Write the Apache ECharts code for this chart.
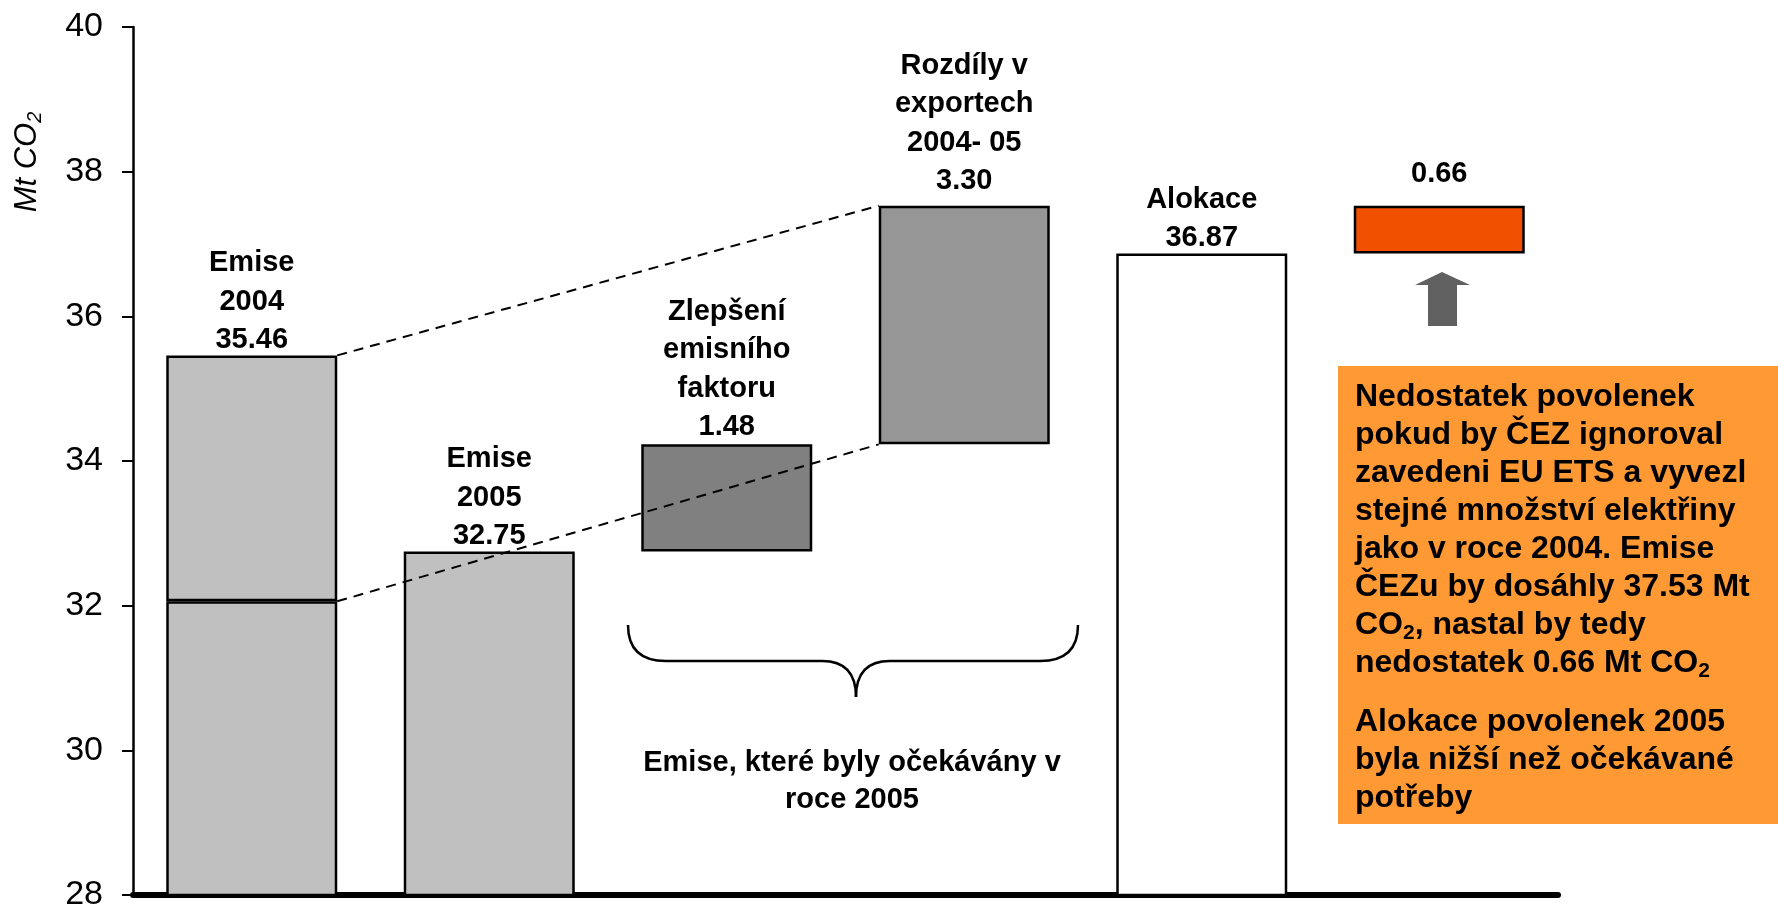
<!DOCTYPE html>
<html><head><meta charset="utf-8">
<script src="https://cdn.jsdelivr.net/npm/echarts@6/dist/echarts.min.js"></script>
<style>html,body{margin:0;padding:0;background:#fff}#c{width:1778px;height:912px}</style>
</head><body><div id="c"></div>
<script>
// ---- data ----
const categories = ['Emise 2004', 'Emise 2005', 'Zlepšení emisního faktoru', 'Rozdíly v exportech 2004- 05', 'Alokace', 'Nedostatek'];
const baseValues = [32.06, 32.75, 32.75, 34.23, 36.87, 36.87];   // lower segment / invisible base
const deltaValues = [3.40, null, 1.48, 3.30, null, 0.66];        // upper segment
const baseVisible = [true, true, false, false, true, false];
const barLabels = ['Emise\n2004\n35.46', 'Emise\n2005\n32.75', 'Zlepšení\nemisního\nfaktoru\n1.48', 'Rozdíly v\nexportech\n2004- 05\n3.30', 'Alokace\n36.87', '0.66'];
const yMin = 28, yMax = 40, yStep = 2;
const yAxisName = 'Mt CO{sub|2}';
const braceText = 'Emise, které byly očekávány v\nroce 2005';
const boxText1 = 'Nedostatek povolenek\npokud by ČEZ ignoroval\nzavedeni EU ETS a vyvezl\nstejné množství elektřiny\njako v roce 2004. Emise\nČEZu by dosáhly 37.53 Mt\nCO{sub|2}, nastal by tedy\nnedostatek 0.66 Mt CO{sub|2}';
const boxText2 = 'Alokace povolenek 2005\nbyla nižší než očekávané\npotřeby';

// ---- styles ----
const FONT = '"Liberation Sans", Arial, sans-serif';
const BAR_W = 171;
const segColors = ['#C0C0C0', '#C0C0C0', '#808080', '#969696', '#FFFFFF', '#F05000'];
const labelDist = [-4, -4, -2, 5, -4, 12];

const connectors = [
  [0, baseValues[0] + deltaValues[0], 3, baseValues[3] + deltaValues[3]],
  [0, baseValues[0], 3, baseValues[3]]
];

function labelCfg(i) {
  return {
    show: true, position: 'top', distance: labelDist[i], formatter: barLabels[i],
    color: '#000', fontFamily: FONT, fontWeight: 'bold', fontSize: 29, lineHeight: 38.5, align: 'center'
  };
}

const baseData = baseValues.map((v, i) => {
  const topHere = deltaValues[i] == null;
  return {
    value: v,
    itemStyle: baseVisible[i]
      ? { color: segColors[i], borderColor: '#000', borderWidth: 2.5 }
      : { color: 'rgba(0,0,0,0)', borderWidth: 0 },
    label: topHere && baseVisible[i] ? labelCfg(i) : { show: false }
  };
});
const deltaData = deltaValues.map((v, i) => v == null ? '-' : {
  value: v,
  itemStyle: { color: segColors[i], borderColor: '#000', borderWidth: 2.5 },
  label: labelCfg(i)
});

const chart = echarts.init(document.getElementById('c'), null, { renderer: 'canvas' });
const subStyle = (fs) => ({ fontSize: fs, fontWeight: 'bold', fontFamily: FONT, lineHeight: 18, verticalAlign: 'bottom', fill: '#000' });
const braceStyle = { stroke: '#000', lineWidth: 2.5, fill: null };

chart.setOption({
  animation: false,
  backgroundColor: '#fff',
  grid: { left: 133, top: 27, width: 1425, height: 870 },
  xAxis: {
    type: 'category', data: categories,
    axisLine: { show: true, lineStyle: { color: '#000', width: 6, cap: 'round' } },
    axisTick: { show: false }, axisLabel: { show: false }, splitLine: { show: false }
  },
  yAxis: {
    type: 'value', min: yMin, max: yMax, interval: yStep,
    axisLine: { show: true, lineStyle: { color: '#000', width: 2.5 } },
    axisTick: { show: true, length: 11, inside: false, lineStyle: { color: '#000', width: 2 } },
    axisLabel: { show: true, margin: 30, color: '#000', fontSize: 34, fontFamily: FONT },
    splitLine: { show: false }
  },
  series: [
    { type: 'bar', stack: 'w', barWidth: BAR_W, data: baseData, z: 2, emphasis: { disabled: true } },
    { type: 'bar', stack: 'w', barWidth: BAR_W, data: deltaData, z: 2, emphasis: { disabled: true } },
    {
      type: 'custom', z: 5, silent: true, data: connectors,
      encode: { x: 0, y: 1 },
      renderItem: function (params, api) {
        const p0 = api.coord([api.value(0), api.value(1)]);
        const p1 = api.coord([api.value(2), api.value(3)]);
        return {
          type: 'line', z2: 10,
          shape: { x1: p0[0] + BAR_W / 2, y1: p0[1], x2: p1[0] - BAR_W / 2, y2: p1[1] },
          style: { stroke: '#000', lineWidth: 2, lineDash: [10, 7], fill: null }
        };
      }
    }
  ],
  graphic: [
    {
      type: 'text', x: 27, y: 162, rotation: Math.PI / 2,
      style: {
        text: yAxisName, fill: '#000', fontSize: 31, fontStyle: 'italic', fontFamily: FONT,
        align: 'center', verticalAlign: 'middle', lineHeight: 36,
        rich: { sub: { fontSize: 20, fontStyle: 'italic', fontFamily: FONT, lineHeight: 20, verticalAlign: 'bottom', fill: '#000' } }
      }
    },
    { type: 'bezierCurve', shape: { x1: 628, y1: 625, cpx1: 628, cpy1: 661, x2: 666, y2: 661 }, style: braceStyle },
    { type: 'line', shape: { x1: 666, y1: 661, x2: 822, y2: 661 }, style: braceStyle },
    { type: 'bezierCurve', shape: { x1: 822, y1: 661, cpx1: 856, cpy1: 661, x2: 856, y2: 697 }, style: braceStyle },
    { type: 'bezierCurve', shape: { x1: 890, y1: 661, cpx1: 856, cpy1: 661, x2: 856, y2: 697 }, style: braceStyle },
    { type: 'line', shape: { x1: 890, y1: 661, x2: 1040, y2: 661 }, style: braceStyle },
    { type: 'bezierCurve', shape: { x1: 1040, y1: 661, cpx1: 1078, cpy1: 661, x2: 1078, y2: 625 }, style: braceStyle },
    {
      type: 'text', x: 852, y: 744,
      style: { text: braceText, fill: '#000', fontSize: 29, fontWeight: 'bold', fontFamily: FONT, lineHeight: 37, align: 'center', verticalAlign: 'top' }
    },
    {
      type: 'polygon',
      shape: { points: [[1442, 272], [1470, 285], [1457, 285], [1457, 326], [1428, 326], [1428, 285], [1415, 285]] },
      style: { fill: '#606060' }
    },
    {
      type: 'rect', shape: { x: 1338, y: 366, width: 440, height: 458 }, style: { fill: '#FF9933' }
    },
    {
      type: 'text', x: 1355, y: 378,
      style: {
        text: boxText1, fill: '#000', fontSize: 32, fontWeight: 'bold', fontFamily: FONT, lineHeight: 38,
        align: 'left', verticalAlign: 'top', rich: { sub: subStyle(21) }
      }
    },
    {
      type: 'text', x: 1355, y: 703,
      style: { text: boxText2, fill: '#000', fontSize: 32, fontWeight: 'bold', fontFamily: FONT, lineHeight: 38, align: 'left', verticalAlign: 'top' }
    }
  ]
});
</script></body></html>
